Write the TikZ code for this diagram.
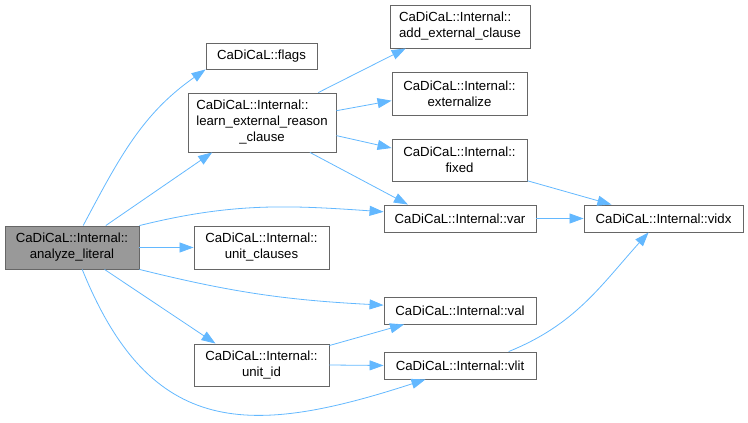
\documentclass[tikz,border=0pt]{standalone}
\usepackage{fontspec}
\setmainfont{Liberation Sans}
\usetikzlibrary{arrows.meta}
\definecolor{graphEdgeBlue}{HTML}{63B8FF}
\definecolor{graphBorderGray}{HTML}{666666}
\definecolor{graphRootGray}{HTML}{999999}

\begin{document}
\begin{tikzpicture}[x=1pt, y=1pt,
    fn/.style={draw=graphBorderGray, line width=0.9pt, fill=white, align=center,
      inner sep=0pt, font=\fontsize{13.2}{16}\selectfont},
    rootfn/.style={fn, fill=graphRootGray},
    callarrow/.style={graphEdgeBlue, line width=0.8pt, -{Triangle[length=14pt,width=10pt]}}]
    \useasboundingbox (0,0) rectangle (748,423);
    % functions
    \node[rootfn, minimum width=134, minimum height=43] (lit) at (72,175.5) {CaDiCaL::Internal::\\analyze\_literal};
    \node[fn, minimum width=111, minimum height=26] (flags) at (261.5,367) {CaDiCaL::flags};
    \node[fn, minimum width=148, minimum height=59] (learn) at (262,300.5) {\begin{tabular}{@{}l@{}}CaDiCaL::Internal::\\learn\_external\_reason\\\multicolumn{1}{@{}c@{}}{\_clause}\end{tabular}};
    \node[fn, minimum width=135, minimum height=43] (uclauses) at (261.5,175.5) {CaDiCaL::Internal::\\unit\_clauses};
    \node[fn, minimum width=135, minimum height=42] (unitid) at (261.5,58) {CaDiCaL::Internal::\\unit\_id};
    \node[fn, minimum width=140, minimum height=43] (addclause) at (460,396.5) {\begin{tabular}{@{}l@{}}CaDiCaL::Internal::\\add\_external\_clause\end{tabular}};
    \node[fn, minimum width=135, minimum height=43] (externalize) at (459.5,329.5) {CaDiCaL::Internal::\\externalize};
    \node[fn, minimum width=135, minimum height=42] (fixed) at (459.5,263) {CaDiCaL::Internal::\\fixed};
    \node[fn, minimum width=152, minimum height=27] (var) at (460,204.5) {CaDiCaL::Internal::var};
    \node[fn, minimum width=159, minimum height=27] (vidx) at (663.5,204.5) {CaDiCaL::Internal::vidx};
    \node[fn, minimum width=152, minimum height=27] (val) at (460,112.5) {CaDiCaL::Internal::val};
    \node[fn, minimum width=152, minimum height=27] (vlit) at (460,57.5) {CaDiCaL::Internal::vlit};
    % calls
    \draw[callarrow] (lit.63) to[out=62,in=215] (flags.south west);
    \draw[callarrow] (lit.33) -- (learn.211);
    \draw[callarrow] (lit.18) to[out=14,in=176] (var.175);
    \draw[callarrow] (lit.east) -- (uclauses.west);
    \draw[callarrow] (lit.-18) to[out=-14,in=177] (val.176);
    \draw[callarrow] (lit.-34) -- (unitid.155);
    \draw[callarrow] (lit.-65) to[out=-68,in=198,looseness=1.3] (vlit.202);
    \draw[callarrow] (learn.28) -- (addclause.202);
    \draw[callarrow] (learn.9) -- (externalize.186);
    \draw[callarrow] (learn.-10) -- (fixed.170);
    \draw[callarrow] (learn.-32) -- (var.165);
    \draw[callarrow] (fixed.-17) -- (vidx.165);
    \draw[callarrow] (var.east) -- (vidx.west);
    \draw[callarrow] (unitid.16) -- (val.194);
    \draw[callarrow] (unitid.east) -- (vlit.west);
    \draw[callarrow] (vlit.16) to[out=22,in=228] (vidx.223);
\end{tikzpicture}
\end{document}
